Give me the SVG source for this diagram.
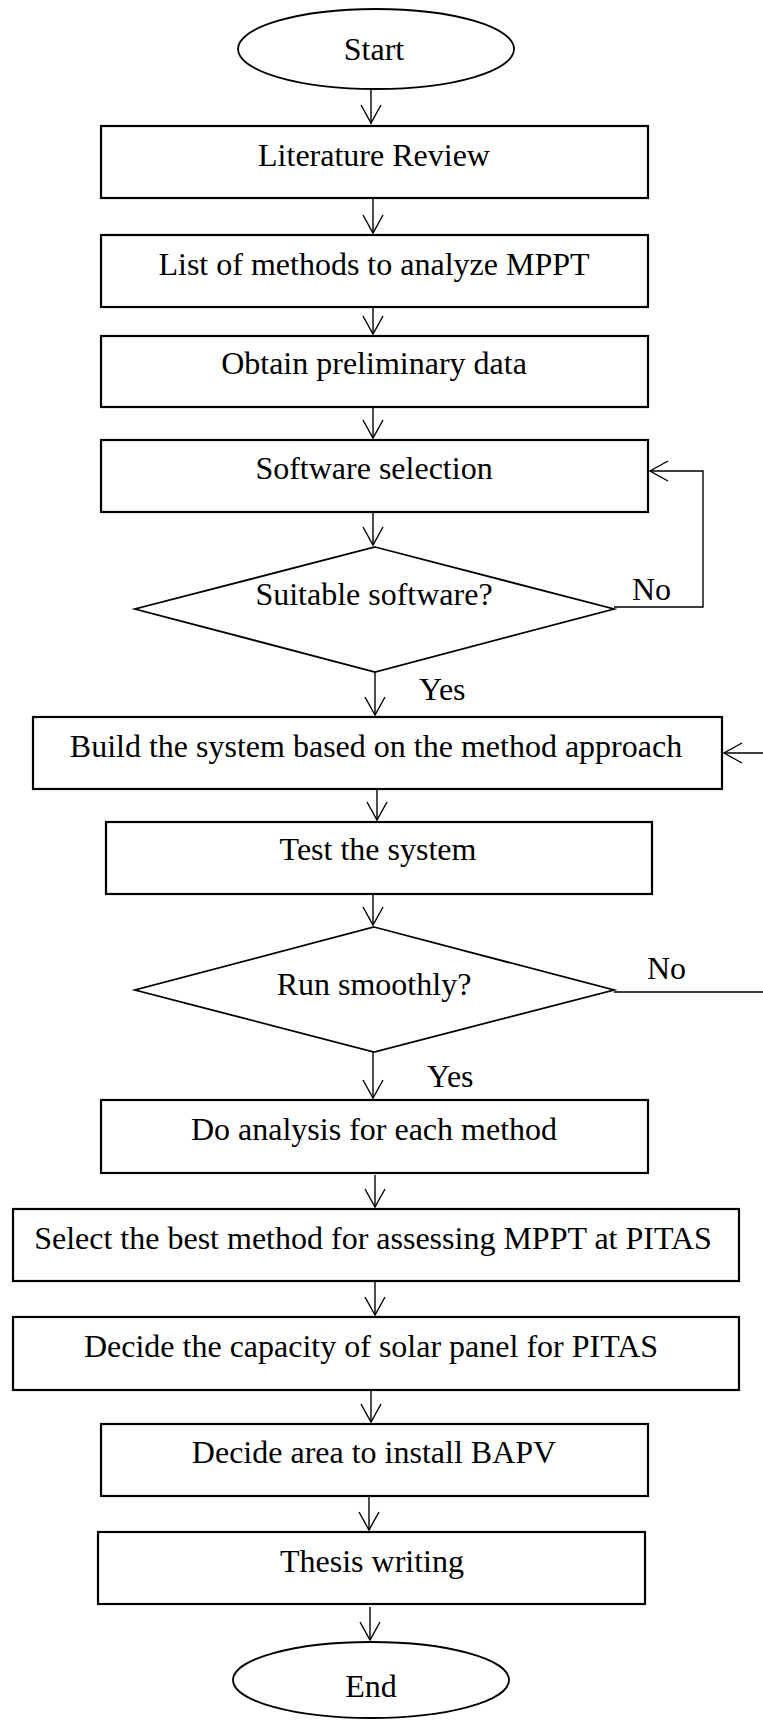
<svg xmlns="http://www.w3.org/2000/svg" width="763" height="1720" viewBox="0 0 763 1720">
<style>
.box{fill:#fff;stroke:#000;stroke-width:2.2}
.dec{fill:#fff;stroke:#000;stroke-width:1.8}
.t{font-family:"Liberation Serif","Times New Roman",serif;font-size:32px;fill:#000;text-anchor:middle}
.l{font-family:"Liberation Serif","Times New Roman",serif;font-size:32px;fill:#000}
.c{fill:none;stroke:#000;stroke-width:1.4}
.h{fill:none;stroke:#000;stroke-width:1.4}
</style>
<rect width="763" height="1720" fill="#fff"/>
<g id="connectors">
<path class="c" d="M371,89 V124"/><path class="h" d="M361,105 L371,123 L381,105"/>
<path class="c" d="M373,195 V233"/><path class="h" d="M363,215 L373,233 L383,215"/>
<path class="c" d="M373,307 V334"/><path class="h" d="M363,316 L373,334 L383,316"/>
<path class="c" d="M373,407 V438"/><path class="h" d="M363,420 L373,438 L383,420"/>
<path class="c" d="M373,512 V545"/><path class="h" d="M363,527 L373,545 L383,527"/>
<path class="c" d="M614,607 H703 V471 H650"/><path class="h" d="M668,461 L650,471 L668,481"/>
<path class="c" d="M375,672 V715"/><path class="h" d="M365,697 L375,715 L385,697"/>
<path class="c" d="M377,789 V820"/><path class="h" d="M367,802 L377,820 L387,802"/>
<path class="c" d="M373,894 V925"/><path class="h" d="M363,907 L373,925 L383,907"/>
<path class="c" d="M614,992 H770 V753 H724"/><path class="h" d="M742,743 L724,753 L742,763"/>
<path class="c" d="M373,1052 V1098"/><path class="h" d="M363,1080 L373,1098 L383,1080"/>
<path class="c" d="M375,1175 V1207"/><path class="h" d="M365,1189 L375,1207 L385,1189"/>
<path class="c" d="M375,1281 V1315"/><path class="h" d="M365,1297 L375,1315 L385,1297"/>
<path class="c" d="M371,1390 V1422"/><path class="h" d="M361,1404 L371,1422 L381,1404"/>
<path class="c" d="M369,1496 V1530"/><path class="h" d="M359,1512 L369,1530 L379,1512"/>
<path class="c" d="M370,1607 V1640"/><path class="h" d="M360,1622 L370,1640 L380,1622"/>
<text class="l" x="632" y="600">No</text>
<text class="l" x="419" y="700">Yes</text>
<text class="l" x="647" y="979">No</text>
<text class="l" x="427" y="1087">Yes</text>
</g>
<g id="start"><ellipse class="dec" cx="376" cy="49" rx="138" ry="40"/><text class="t" x="374" y="60">Start</text></g>
<g id="literature"><rect class="box" x="101" y="126" width="547" height="72"/><text class="t" x="374" y="166">Literature Review</text></g>
<g id="list"><rect class="box" x="101" y="235" width="547" height="72"/><text class="t" x="374" y="275">List of methods to analyze MPPT</text></g>
<g id="obtain"><rect class="box" x="101" y="336" width="547" height="71"/><text class="t" x="374" y="374">Obtain preliminary data</text></g>
<g id="software"><rect class="box" x="101" y="440" width="547" height="72"/><text class="t" x="374" y="479">Software selection</text></g>
<g id="suitable"><polygon class="dec" points="375,547 614,609 375,672 135,609"/><text class="t" x="374" y="605">Suitable software?</text></g>
<g id="build"><rect class="box" x="33" y="717" width="689" height="72"/><text class="t" x="376" y="757">Build the system based on the method approach</text></g>
<g id="test"><rect class="box" x="106" y="822" width="546" height="72"/><text class="t" x="378" y="860">Test the system</text></g>
<g id="smooth"><polygon class="dec" points="374,927 614,990 374,1052 135,990"/><text class="t" x="374" y="995">Run smoothly?</text></g>
<g id="analysis"><rect class="box" x="101" y="1100" width="547" height="73"/><text class="t" x="374" y="1140">Do analysis for each method</text></g>
<g id="select"><rect class="box" x="13" y="1209" width="726" height="72"/><text class="t" x="373" y="1249">Select the best method for assessing MPPT at PITAS</text></g>
<g id="capacity"><rect class="box" x="13" y="1317" width="726" height="73"/><text class="t" x="371" y="1357">Decide the capacity of solar panel for PITAS</text></g>
<g id="area"><rect class="box" x="101" y="1424" width="547" height="72"/><text class="t" x="374" y="1463">Decide area to install BAPV</text></g>
<g id="thesis"><rect class="box" x="98" y="1532" width="547" height="72"/><text class="t" x="372" y="1572">Thesis writing</text></g>
<g id="end"><ellipse class="dec" cx="371" cy="1680" rx="138" ry="38"/><text class="t" x="371" y="1697">End</text></g>
</svg>
